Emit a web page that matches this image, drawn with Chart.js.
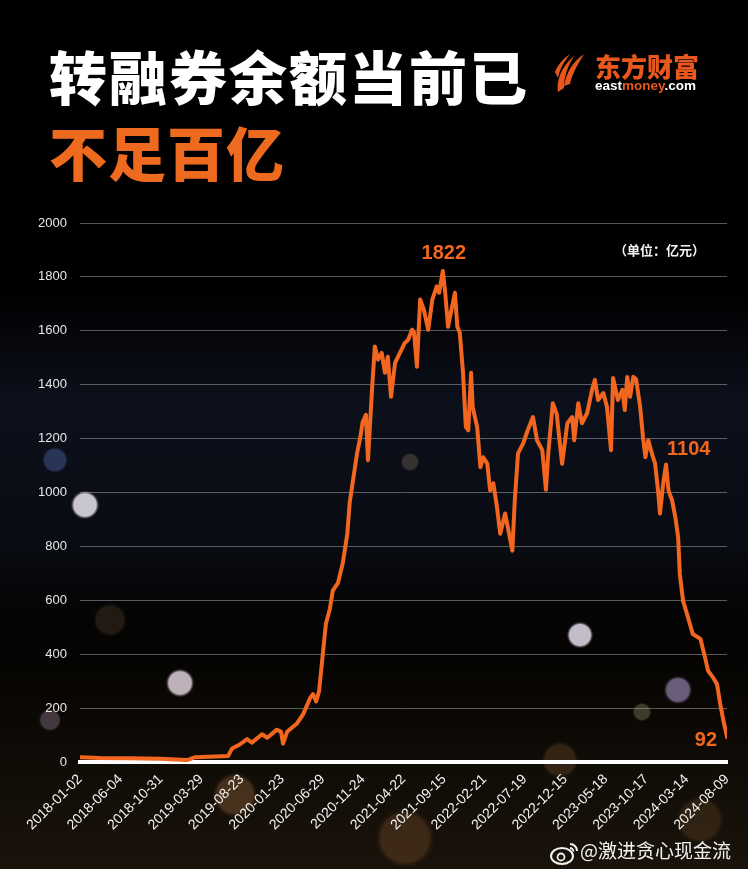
<!DOCTYPE html>
<html>
<head>
<meta charset="utf-8">
<script src="https://cdn.jsdelivr.net/npm/chart.js@4/dist/chart.umd.min.js"></script>
<style>
  html, body { margin: 0; padding: 0; background: #000; }
  #wrap { position: relative; width: 748px; height: 869px; overflow: hidden; background: #000; }
  #chart { position: absolute; left: 0; top: 0; }
  .t { position: absolute; font-family: "Noto Sans CJK SC", sans-serif; font-weight: 900; line-height: 1; white-space: nowrap; }
  #t1 { left: 49px; top: 46px; font-size: 58px; letter-spacing: 2px; color: #fff; }
  #t2 { left: 49px; top: 122px; font-size: 58px; letter-spacing: 1px; color: #ee6a1f; }
  #logoText { left: 595px; top: 53px; font-size: 26px; color: #e8581e; }
  #logoSub { left: 595px; top: 79px; font-family: "Liberation Sans", Arial, sans-serif; font-size: 13.5px; color: #fff; font-weight: 700; }
  #logoSub span { color: #e8581e; }
  #logoIcon { position: absolute; left: 552px; top: 50px; }
  #wb { left: 580px; top: 840px; font-size: 19px; font-weight: 400; color: #f2f2f2; }
  #wbIcon { position: absolute; left: 550px; top: 840px; }
</style>
</head>
<body>
<div id="wrap">
  <canvas id="chart" width="748" height="869"></canvas>
  <div class="t" id="t1">转融券余额当前已</div>
  <div class="t" id="t2">不足百亿</div>
  <svg id="logoIcon" width="36" height="44" viewBox="0 0 36 44">
    <path d="M6 42 C4 30 10 16 22 6 C16 16 12 26 12 38 Z" fill="#e8581e"/>
    <path d="M12 36 C14 24 20 12 32 4 C26 14 20 24 18 34 Z" fill="#e8581e"/>
    <path d="M3 22 C6 14 12 8 18 4 C12 12 8 18 6 28 Z" fill="#e8581e"/>
  </svg>
  <div class="t" id="logoText">东方财富</div>
  <div class="t" id="logoSub">east<span>money</span>.com</div>
  <svg id="wbIcon" width="30" height="26" viewBox="0 0 30 26">
    <ellipse cx="12" cy="16" rx="11" ry="8" fill="none" stroke="#f2f2f2" stroke-width="2"/>
    <circle cx="11" cy="17" r="3.5" fill="none" stroke="#f2f2f2" stroke-width="1.8"/>
    <path d="M20 4 A7 7 0 0 1 27 11" fill="none" stroke="#f2f2f2" stroke-width="2"/>
    <path d="M20 8 A3.5 3.5 0 0 1 23.5 11.5" fill="none" stroke="#f2f2f2" stroke-width="1.8"/>
  </svg>
  <div class="t" id="wb">@激进贪心现金流</div>
</div>
<script>
// ---- data ----
const xTickLabels = ["2018-01-02","2018-06-04","2018-10-31","2019-03-29","2019-08-23","2020-01-23","2020-06-29","2020-11-24","2021-04-22","2021-09-15","2022-02-21","2022-07-19","2022-12-15","2023-05-18","2023-10-17","2024-03-14","2024-08-09"];
// trading-day index since 2018-01-02 (one x tick = 100 trading days)
const tradingDay = [0,49,123,198,265,285,334,366,376,395,
  413,425,450,463,487,497,502,512,537,552,
  569,576,584,591,601,608,618,625,638,650,
  661,667,675,685,693,699,707,712,722,729,
  737,746,754,761,769,779,791,803,811,821,
  826,833,841,850,861,871,882,888,897,903,
  910,920,927,933,939,947,954,960,967,971,
  982,990,997,1007,1014,1022,1031,1039,1051,1058,
  1069,1075,1083,1096,1107,1120,1130,1143,1152,1158,
  1169,1179,1182,1192,1205,1217,1222,1232,1241,1254,
  1266,1273,1281,1294,1303,1313,1318,1330,1341,1347,
  1353,1360,1368,1375,1385,1392,1398,1405,1415,1422,
  1430,1434,1442,1449,1455,1464,1472,1479,1483,1491,
  1501,1515,1534,1545,1553,1566,1575,1583,1591,1600];
// 转融券余额 (亿元)
const balance = [18,15,14,12,7,18,20,22,50,65,
  85,72,103,90,120,112,68,112,144,178,
  237,252,225,262,410,513,570,636,665,740,
  848,965,1045,1145,1205,1262,1288,1120,1381,1542,
  1493,1518,1444,1504,1355,1481,1518,1555,1566,1604,
  1593,1467,1716,1679,1604,1716,1765,1741,1822,1741,
  1615,1690,1741,1615,1593,1444,1243,1231,1444,1317,
  1243,1094,1131,1107,1008,1034,945,847,922,870,
  784,971,1145,1183,1231,1280,1194,1157,1010,1150,
  1331,1290,1243,1107,1257,1280,1194,1331,1257,1295,
  1381,1418,1343,1369,1317,1157,1425,1343,1381,1306,
  1429,1355,1429,1420,1317,1205,1131,1194,1140,1107,
  996,922,1034,1104,1008,971,908,833,698,598,
  549,475,457,390,338,312,289,215,152,92];
const yTicks = [0,200,400,600,800,1000,1200,1400,1600,1800,2000];
const calloutValues = [1822, 1104, 92];
const unitLabel = "（单位：亿元）";
</script>
<script>
const ORANGE = '#f2661f';
const points = tradingDay.map((d, i) => ({ x: d, y: balance[i] }));
const lastDay = tradingDay[tradingDay.length - 1];

const bgPlugin = {
  id: 'bg',
  beforeDraw(chart) {
    const ctx = chart.ctx;
    ctx.save();
    ctx.fillStyle = '#000';
    ctx.fillRect(0, 0, chart.width, chart.height);
    let g = ctx.createLinearGradient(0, 290, 0, 660);
    g.addColorStop(0, 'rgba(14,18,30,0)');
    g.addColorStop(0.3, 'rgba(14,19,32,0.85)');
    g.addColorStop(0.7, 'rgba(12,15,24,0.75)');
    g.addColorStop(1, 'rgba(10,10,10,0)');
    ctx.fillStyle = g;
    ctx.fillRect(0, 290, chart.width, 370);
    g = ctx.createLinearGradient(0, 600, 0, 869);
    g.addColorStop(0, 'rgba(30,22,12,0)');
    g.addColorStop(1, 'rgba(30,22,12,0.85)');
    ctx.fillStyle = g;
    ctx.fillRect(0, 600, chart.width, 269);
    const bokeh = [
      [85, 505, 15, 'rgba(235,230,240,0.85)'],
      [55, 460, 14, 'rgba(70,90,150,0.5)'],
      [180, 683, 15, 'rgba(235,220,230,0.8)'],
      [580, 635, 14, 'rgba(230,220,235,0.85)'],
      [678, 690, 15, 'rgba(170,150,200,0.6)'],
      [642, 712, 10, 'rgba(160,150,110,0.35)'],
      [235, 795, 24, 'rgba(150,100,60,0.4)'],
      [405, 838, 32, 'rgba(130,85,45,0.35)'],
      [110, 620, 18, 'rgba(120,90,60,0.25)'],
      [700, 820, 26, 'rgba(110,80,45,0.3)'],
      [410, 462, 10, 'rgba(150,130,100,0.3)'],
      [50, 720, 12, 'rgba(150,130,150,0.4)'],
      [560, 760, 20, 'rgba(130,90,50,0.3)']
    ];
    bokeh.forEach(([x, y, r, c]) => {
      const rg = ctx.createRadialGradient(x, y, 0, x, y, r);
      rg.addColorStop(0, c);
      rg.addColorStop(0.75, c);
      rg.addColorStop(1, 'rgba(0,0,0,0)');
      ctx.fillStyle = rg;
      ctx.beginPath(); ctx.arc(x, y, r, 0, Math.PI * 2); ctx.fill();
    });
    ctx.restore();
  }
};

const calloutPlugin = {
  id: 'callouts',
  afterDatasetsDraw(chart) {
    const ctx = chart.ctx;
    const xs = chart.scales.x, ys = chart.scales.y;
    ctx.save();
    ctx.font = 'bold 20px "Liberation Sans", Arial, sans-serif';
    ctx.fillStyle = ORANGE;
    ctx.textBaseline = 'middle';
    calloutValues.forEach((v, k) => {
      const i = balance.lastIndexOf(v);
      const px = xs.getPixelForValue(tradingDay[i]);
      const py = ys.getPixelForValue(v);
      if (k === 0) { ctx.textAlign = 'center'; ctx.fillText(String(v), px + 1, py - 17); }
      else if (k === 1) { ctx.textAlign = 'left'; ctx.fillText(String(v), px + 1, py - 15); }
      else { ctx.textAlign = 'right'; ctx.fillText(String(v), px - 10, py + 3); }
    });
    ctx.font = 'bold 13px "Noto Sans CJK SC", sans-serif';
    ctx.fillStyle = '#f2f2f2';
    ctx.textAlign = 'right';
    ctx.fillText(unitLabel, chart.chartArea.right - 22, ys.getPixelForValue(1900));
    ctx.restore();
  }
};

new Chart(document.getElementById('chart'), {
  type: 'line',
  data: {
    datasets: [{
      data: points,
      borderColor: ORANGE,
      borderWidth: 4,
      pointRadius: 0,
      tension: 0,
      borderJoinStyle: 'round',
      borderCapStyle: 'round',
      fill: false
    }]
  },
  options: {
    responsive: false,
    devicePixelRatio: 1,
    animation: false,
    layout: { padding: { left: 0, right: 20, top: 223, bottom: 0 } },
    plugins: { legend: { display: false }, tooltip: { enabled: false } },
    scales: {
      x: {
        type: 'linear',
        min: 0, max: lastDay,
        afterFit(s) { s.height = 107; },
        afterBuildTicks(s) { s.ticks = xTickLabels.map((_, i) => ({ value: i * 100 })); },
        grid: { display: false, drawTicks: false },
        border: { display: true, color: '#ffffff', width: 4 },
        ticks: {
          autoSkip: false,
          maxRotation: 45, minRotation: 45,
          padding: 9,
          color: '#f4f4f4',
          font: { family: '"Liberation Sans", Arial, sans-serif', size: 14 },
          callback: (v) => xTickLabels[Math.round(v / 100)]
        }
      },
      y: {
        min: 0, max: 2000,
        afterFit(s) { s.width = 80; },
        afterBuildTicks(s) { s.ticks = yTicks.map(v => ({ value: v })); },
        border: { display: false },
        grid: {
          drawTicks: false,
          color: (c) => c.tick && c.tick.value === 0 ? 'rgba(0,0,0,0)' : 'rgba(160,160,160,0.55)',
          lineWidth: 1
        },
        ticks: {
          padding: 13,
          color: '#e8e8e8',
          font: { family: '"Liberation Sans", Arial, sans-serif', size: 13 },
          callback: (v) => String(v)
        }
      }
    }
  },
  plugins: [bgPlugin, calloutPlugin]
});
</script>
</body>
</html>
